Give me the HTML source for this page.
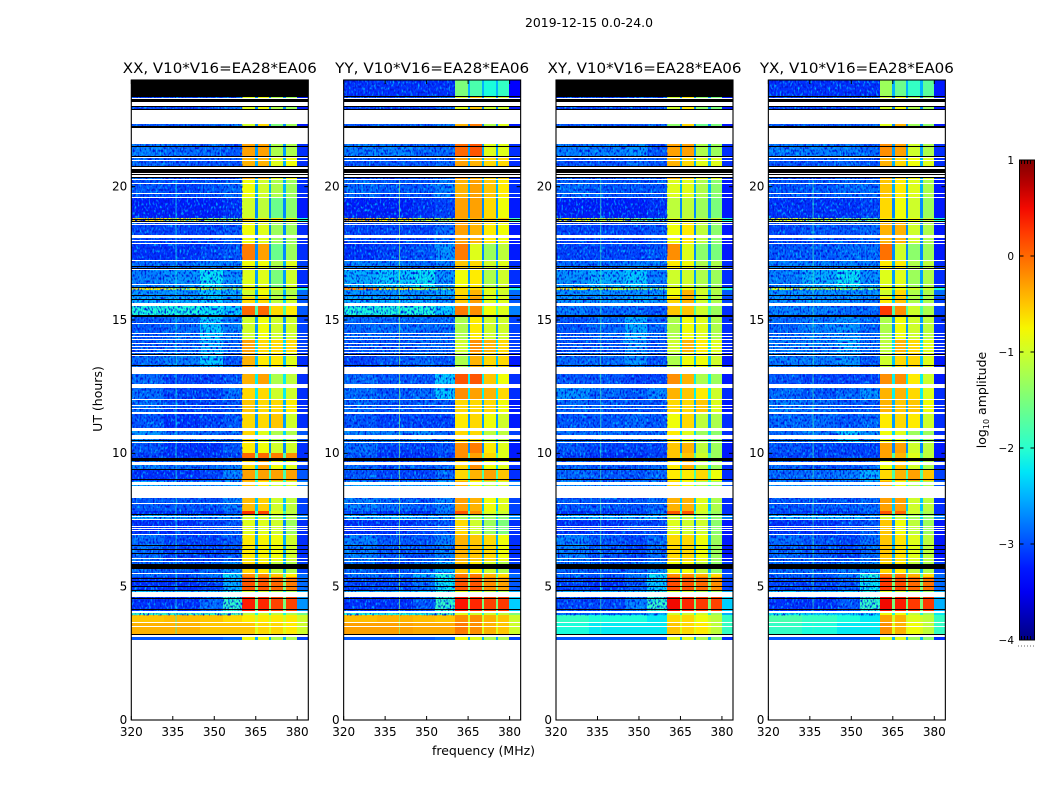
<!DOCTYPE html>
<html lang="en">
<head>
<meta charset="utf-8">
<title>2019-12-15 0.0-24.0</title>
<style>
html,body{margin:0;padding:0;background:#fff;width:1050px;height:800px;overflow:hidden}
svg{display:block}
text{font-family:"DejaVu Sans","Liberation Sans",sans-serif;fill:#000}
.cell{shape-rendering:crispEdges}
</style>
</head>
<body>
<svg id="figure" xmlns="http://www.w3.org/2000/svg" width="1050" height="800" viewBox="0 0 1050 800">
  <defs>
    <filter id="grain-light" x="0" y="0" width="1" height="1" color-interpolation-filters="sRGB">
      <feTurbulence type="fractalNoise" baseFrequency="0.55 0.32" numOctaves="1" seed="3"/>
      <feColorMatrix type="matrix" values="0 0 0 0 0  0 0 0 0 0.72  0 0 0 0 1  3.6 0 0 0 -1.8"/>
    </filter>
    <filter id="grain-dark" x="0" y="0" width="1" height="1" color-interpolation-filters="sRGB">
      <feTurbulence type="fractalNoise" baseFrequency="0.6 0.36" numOctaves="1" seed="11"/>
      <feColorMatrix type="matrix" values="0 0 0 0 0  0 0 0 0 0.08  0 0 0 0 0.85  4 0 0 0 -1.9"/>
    </filter>
    <linearGradient id="jet-gradient" x1="0" y1="1" x2="0" y2="0"></linearGradient>
  </defs>
  <text x="589" y="27" font-size="12.5" text-anchor="middle" textLength="128" lengthAdjust="spacingAndGlyphs">2019-12-15 0.0-24.0</text>
  <text x="483.5" y="755" font-size="12.5" text-anchor="middle" textLength="103" lengthAdjust="spacingAndGlyphs">frequency (MHz)</text>
  <text x="0" y="0" font-size="12.5" text-anchor="middle" transform="translate(102,399) rotate(-90)">UT (hours)</text>
  <text x="0" y="0" font-size="12.5" text-anchor="middle" transform="translate(986,400) rotate(-90)">log<tspan font-size="8" dy="3">10</tspan><tspan dy="-3"> amplitude</tspan></text>
  <g id="panels"></g>
  <g id="colorbar"></g>
</svg>
<script>
// Row boundaries in UT hours, from the top of each time block down.
const timeEdges = [24,23.36,22.35,21.60,21.11,20.24,19.57,18.82,18.72,17.88,17.20,16.87,16.21,16.14,15.85,15.52,15.14,14.24,13.75,12.96,12.44,11.99,11.46,10.83,10.38,10.00,9.74,9.36,8.95,8.31,7.82,7.67,7.50,6.92,5.98,5.53,5.35,4.82,4.60,4.07,3.92,3.62,3.21,2.98];
// Frequency blocks in MHz.
const bandStarts = [320,332,345,353,360.2,365.7,370.6,375.9,379.9];
const bandEnds = [332,345,353,360.2,364.8,369.9,375,379.9,384];
const notchStarts = [364.8,369.9,375];
const notchEnds = [365.7,370.6,375.9];
const notchLevels = [-2.5,-2.7,-2.7,-2.6,-2.5,-2.5,-2.7,-1.8,-2.7,-2.7,-2.5,-2.6,-1.8,-2.5,-2.3,-1.8,-2.6,-2.3,-2.4,-2.2,-2.2,-2.5,-2.6,-2.3,-2.7,-1.8,-2.3,-1.8,-2.1,-2.4,-1.8,-2.3,-2.7,-2.5,-2.5,-1.8,-1.5,-2.2,-1.5,-2.1,-1.0,-0.9,-2.5];

// log10 amplitude: one row per time block, one column per frequency block.
const levelsXX = [
[-3,-3,-3,-3,-1.5,-1.7,-2,-1.7,-3],
[-2.8,-2.8,-2.8,-2.6,-0.9,-0.8,-1.2,-1.3,-3],
[-2.7,-2.7,-2.6,-2.5,-1.0,-0.6,-1.5,-1.3,-3],
[-2.5,-2.6,-2.6,-2.7,-0.3,-0.3,-1.2,-1.2,-2.9],
[-2.6,-2.7,-2.7,-2.7,-0.4,-0.4,-0.9,-0.8,-2.9],
[-2.7,-2.8,-2.7,-2.6,-0.8,-1.0,-1.2,-1.3,-2.9],
[-3,-3,-3,-2.9,-1.0,-1.1,-1.6,-1.4,-3],
[-0.6,-0.8,-1.2,-1.5,-0.6,-0.7,-0.7,-0.8,-2],
[-2.8,-2.8,-2.8,-2.7,-0.8,-0.9,-1.3,-1.3,-2.9],
[-2.9,-2.9,-2.8,-2.7,-0.1,-0.3,-1.6,-1.3,-2.9],
[-2.6,-2.6,-2.5,-2.5,-0.8,-0.8,-1.2,-0.9,-2.8],
[-2.5,-2.4,-2.1,-2.4,-0.9,-0.9,-1.5,-1.0,-2.9],
[-0.7,-0.9,-1.1,-1.3,-0.7,-0.7,-0.9,-1,-2],
[-2.4,-2.4,-2.2,-2.3,-1.0,-0.8,-1.2,-1.2,-2.6],
[-2.3,-2.3,-2.2,-2.4,-0.6,-0.6,-1.1,-1.0,-2.7],
[-2.0,-2.0,-2.1,-2.2,0,0,-0.6,-0.7,-2.7],
[-2.7,-2.6,-2.2,-2.5,-1.0,-0.8,-1.0,-1.0,-2.8],
[-2.7,-2.6,-2.3,-2.6,-0.3,-0.6,-0.6,-0.6,-2.8],
[-2.6,-2.5,-2.2,-2.7,-0.4,-0.7,-0.7,-0.9,-2.9],
[-2.6,-2.8,-2.8,-2.7,-0.4,-0.3,-1.2,-1.1,-2.9],
[-2.6,-2.8,-2.8,-2.6,-0.6,-0.6,-1.0,-1.0,-2.9],
[-2.6,-2.8,-2.8,-2.7,-0.5,-0.6,-0.6,-0.7,-2.9],
[-2.7,-2.9,-2.8,-2.7,-0.6,-0.6,-0.5,-1.0,-2.9],
[-2.4,-2.6,-2.6,-2.6,-0.6,-0.9,-1.2,-1.2,-2.7],
[-2.7,-2.9,-2.9,-2.7,-0.7,-0.8,-1.0,-1.0,-2.9],
[-2.8,-2.9,-2.9,-2.8,0,0,-0.1,-0.2,-2.9],
[-2.5,-2.6,-2.6,-2.5,-0.6,-0.3,-0.8,-0.9,-2.8],
[-2.9,-2.9,-2.8,-2.5,-0.3,-0.3,-0.3,-0.3,-2.7],
[-2.3,-2.4,-2.4,-2.3,-0.5,-0.7,-1,-1,-2.5],
[-2.7,-2.7,-2.7,-2.5,-0.45,-0.55,-1.0,-1.1,-2.8],
[-2.9,-2.9,-2.9,-2.7,0.3,0.2,-0.9,-1.1,-2.8],
[-2.3,-2.4,-2.4,-2.4,-1.0,-1,-1.2,-1.2,-2.5],
[-2.9,-2.9,-2.8,-2.7,-0.9,-0.9,-1.0,-1.3,-2.9],
[-2.6,-2.8,-2.8,-2.7,-0.7,-0.75,-0.8,-1.0,-2.9],
[-2.6,-2.7,-2.6,-2.4,-0.6,-0.7,-1.1,-1.2,-2.8],
[-2.6,-2.7,-2.5,-2.1,-0.2,-0.2,-0.5,-0.7,-2.6],
[-2.9,-2.9,-2.8,-2.3,0.1,0.1,0,-0.1,-2.6],
[-2.2,-2.3,-2.2,-2.0,-1.0,-1.0,-1.2,-1.2,-2.3],
[-2.9,-2.9,-2.6,-1.9,0.4,0.35,0.2,0.2,-2.4],
[-1.9,-1.9,-1.9,-1.8,-1.1,-1,-1.1,-1.2,-1.6],
[-0.5,-0.45,-0.5,-0.6,-0.7,-0.7,-0.7,-0.7,-1.0],
[-0.4,-0.4,-0.5,-0.5,-0.5,-0.6,-0.6,-0.7,-1.0],
[-2.7,-2.7,-2.7,-2.6,-0.8,-0.8,-1.2,-1.2,-2.8]
];
const levelsYY = [
[-2.9,-2.9,-2.9,-2.9,-1.5,-1.8,-2.0,-1.9,-3.2],
[-2.8,-2.8,-2.8,-2.6,-0.9,-0.5,-1.0,-1.0,-3],
[-2.7,-2.7,-2.7,-2.5,-0.4,-0.1,-1.2,-0.9,-3],
[-2.5,-2.5,-2.6,-2.6,0.0,0.1,-0.9,-0.9,-2.9],
[-2.7,-2.7,-2.7,-2.6,-0.3,-0.4,-0.6,-0.6,-2.9],
[-2.6,-2.7,-2.7,-2.5,-0.4,-0.3,-0.5,-0.7,-2.9],
[-3,-3,-2.9,-2.8,-0.3,-0.3,-0.6,-0.8,-3],
[-0.4,-0.7,-1.0,-1.2,-0.4,-0.4,-0.5,-0.5,-1.8],
[-2.8,-2.8,-2.8,-2.6,-0.3,-0.4,-0.7,-0.8,-3],
[-2.9,-2.8,-2.7,-2.4,-0.1,-0.9,-1.3,-1.1,-3],
[-2.5,-2.5,-2.6,-2.5,-0.5,-0.6,-1.0,-0.9,-2.9],
[-2.3,-2.2,-2.1,-2.4,-0.8,-0.7,-1.2,-1.0,-2.9],
[-0.2,-0.7,-1.0,-1.3,-0.6,-0.6,-0.8,-0.9,-2],
[-2.4,-2.4,-2.4,-2.3,-0.6,-0.4,-0.9,-1,-2.6],
[-2.3,-2.3,-2.3,-2.4,-0.5,-0.3,-0.9,-0.9,-2.7],
[-2.0,-2.0,-2.0,-2.2,-0.1,-0.2,-0.8,-0.9,-2.5],
[-2.6,-2.6,-2.6,-2.6,-1.2,-0.7,-1.0,-1.0,-2.8],
[-2.7,-2.7,-2.6,-2.6,-1.0,-0.2,-0.4,-0.6,-2.8],
[-2.8,-2.7,-2.6,-2.7,-1.2,-0.4,-0.6,-0.6,-3],
[-2.6,-2.7,-2.7,-2.2,0.1,0.1,-0.5,-0.8,-2.9],
[-2.6,-2.7,-2.6,-2.2,-0.2,-0.3,-0.4,-0.6,-2.9],
[-2.6,-2.7,-2.7,-2.7,-0.6,-0.6,-0.6,-0.8,-3],
[-2.7,-2.8,-2.8,-2.8,-0.7,-0.6,-0.8,-1,-3],
[-2.5,-2.5,-2.4,-2.6,-0.6,-0.6,-1.1,-1.1,-2.8],
[-2.6,-2.8,-2.8,-2.7,-0.2,-0.1,-0.7,-0.9,-3],
[-2.7,-2.9,-2.9,-2.8,-0.2,-0.3,-0.6,-0.9,-3],
[-2.6,-2.7,-2.7,-2.6,-0.6,-0.2,-0.8,-0.9,-2.9],
[-2.7,-2.8,-2.8,-2.6,-0.6,-0.4,-0.3,-0.5,-2.9],
[-2.3,-2.4,-2.4,-2.3,-0.4,-0.8,-1.1,-1,-2.5],
[-2.5,-2.6,-2.7,-2.5,-0.3,-0.4,-0.8,-0.9,-2.8],
[-2.8,-2.9,-2.9,-2.6,0.1,-0.2,-0.9,-1,-2.8],
[-2.3,-2.3,-2.4,-2.4,-1.2,-1.3,-1.3,-1.4,-2.4],
[-2.9,-2.9,-2.8,-2.7,-0.6,-1.0,-1.3,-1.5,-2.9],
[-2.5,-2.7,-2.7,-2.5,-0.4,-0.5,-0.6,-0.8,-2.9],
[-2.6,-2.7,-2.5,-2.3,-0.5,-0.7,-1.0,-1.2,-2.8],
[-2.5,-2.6,-2.3,-2.0,-0.1,-0.1,-0.4,-0.6,-2.6],
[-2.8,-2.8,-2.6,-2.1,0.1,0.1,-0.2,-0.3,-2.7],
[-2.3,-2.3,-2.2,-2.0,-0.9,-1,-1.1,-1.2,-2.3],
[-2.9,-2.9,-2.7,-1.9,0.45,0.35,0.2,0.25,-2.2],
[-2.0,-2.0,-2.0,-1.9,-0.9,-1,-1.0,-1.1,-1.5],
[-0.45,-0.4,-0.45,-0.5,-0.2,-0.2,-0.4,-0.5,-1.0],
[-0.3,-0.3,-0.35,-0.35,-0.1,-0.2,-0.4,-0.5,-1.0],
[-2.7,-2.7,-2.7,-2.6,-0.8,-0.9,-1.2,-1.2,-2.8]
];
const levelsXY = [
[-3,-3,-3,-3,-1.5,-1.7,-2,-1.7,-3],
[-2.8,-2.8,-2.8,-2.7,-1.0,-0.7,-1.4,-1.5,-3],
[-2.7,-2.7,-2.7,-2.6,-1.4,-0.6,-1.6,-1.5,-3],
[-2.5,-2.5,-2.4,-2.7,-0.3,-0.3,-1.2,-1.3,-2.9],
[-2.7,-2.7,-2.6,-2.7,-0.4,-0.6,-0.9,-0.9,-2.9],
[-2.6,-2.7,-2.7,-2.7,-0.9,-0.9,-1.2,-1.4,-3],
[-3,-3,-3,-2.9,-1.1,-1.1,-1.3,-1.5,-3],
[-0.8,-1.0,-1.4,-1.8,-0.9,-0.9,-1,-1,-2],
[-2.8,-2.8,-2.8,-2.7,-0.8,-0.7,-1.1,-1.4,-3],
[-2.8,-2.8,-2.8,-2.7,-0.2,-0.9,-1.4,-1.5,-3],
[-2.6,-2.6,-2.5,-2.5,-0.7,-0.8,-1.2,-1.2,-2.9],
[-2.4,-2.3,-2.2,-2.5,-1.0,-1.0,-1.2,-1.3,-2.9],
[-0.7,-1.0,-1.3,-1.5,-0.8,-0.8,-1,-1.1,-2],
[-2.4,-2.4,-2.4,-2.4,-0.8,-0.4,-1.0,-1.2,-2.7],
[-2.4,-2.4,-2.3,-2.4,-0.6,-0.4,-1.0,-1.2,-2.8],
[-2.5,-2.6,-2.6,-2.7,-0.5,-0.5,-1,-1.3,-2.9],
[-2.7,-2.6,-2.3,-2.6,-1.2,-0.8,-0.9,-1.2,-2.9],
[-2.7,-2.7,-2.4,-2.7,-1.0,-0.4,-0.7,-0.9,-2.9],
[-2.6,-2.6,-2.4,-2.7,-1.2,-0.8,-0.8,-1.0,-3],
[-2.7,-2.7,-2.8,-2.8,-0.2,-0.4,-1.2,-1.3,-3],
[-2.4,-2.6,-2.7,-2.5,-0.4,-0.5,-0.7,-1,-2.9],
[-2.6,-2.7,-2.7,-2.7,-0.6,-0.6,-0.5,-0.9,-3],
[-2.7,-2.7,-2.6,-2.7,-0.8,-0.6,-1.1,-1.2,-2.9],
[-2.6,-2.6,-2.6,-2.6,-0.7,-0.9,-1.3,-1.4,-2.9],
[-2.7,-2.8,-2.8,-2.8,-0.5,-0.4,-1.1,-1.3,-3],
[-2.8,-2.9,-2.9,-2.8,-0.5,-0.5,-1.0,-1.3,-3],
[-2.6,-2.7,-2.7,-2.6,-0.7,-0.4,-1.1,-1.3,-2.9],
[-2.6,-2.7,-2.7,-2.6,-0.7,-0.7,-0.6,-0.8,-2.9],
[-2.4,-2.5,-2.5,-2.4,-0.6,-0.8,-1.2,-1.3,-2.7],
[-2.7,-2.7,-2.7,-2.6,-0.4,-0.4,-0.9,-1.2,-2.9],
[-2.9,-2.9,-2.8,-2.6,0.1,0.1,-1,-1.3,-2.9],
[-2.3,-2.3,-2.3,-2.3,-1.1,-1.1,-1.2,-1.4,-2.5],
[-2.9,-2.9,-2.8,-2.8,-0.9,-1.0,-1.0,-1.4,-3],
[-2.5,-2.7,-2.8,-2.6,-0.6,-0.6,-0.8,-1.3,-3],
[-2.6,-2.7,-2.6,-2.4,-0.8,-0.8,-1.1,-1.4,-2.8],
[-2.6,-2.7,-2.5,-2.1,-0.2,-0.2,-0.4,-0.6,-2.7],
[-2.8,-2.9,-2.7,-2.2,0.15,0.1,0,-0.2,-2.8],
[-2.3,-2.3,-2.2,-2.0,-1,-1,-1.2,-1.3,-2.3],
[-2.8,-2.8,-2.5,-1.9,0.5,0.35,0.25,0.2,-2.2],
[-2.6,-2.6,-2.5,-2.3,-1,-1,-1,-1.3,-2.3],
[-1.9,-2.0,-2.0,-2.1,-0.6,-0.6,-0.8,-1.1,-1.9],
[-2.0,-2.1,-2.1,-2.1,-0.5,-0.6,-0.7,-1.1,-1.9],
[-2.7,-2.7,-2.7,-2.7,-0.9,-0.9,-1.2,-1.4,-2.9]
];
const levelsYX = [
[-2.9,-2.9,-2.9,-2.9,-1.3,-1.6,-1.9,-1.7,-3],
[-2.8,-2.8,-2.8,-2.7,-1.0,-0.8,-1.2,-1.3,-3],
[-2.7,-2.7,-2.7,-2.6,-0.9,-0.4,-1.3,-1.4,-3],
[-2.5,-2.5,-2.5,-2.6,-0.2,-0.3,-1.0,-1.2,-2.9],
[-2.7,-2.7,-2.6,-2.7,-0.4,-0.6,-0.8,-0.9,-2.9],
[-2.7,-2.7,-2.6,-2.6,-0.5,-0.7,-0.9,-1.2,-3],
[-2.9,-2.9,-2.9,-2.8,-0.6,-0.8,-1,-1.3,-3],
[-0.9,-1.1,-1.4,-1.6,-0.7,-0.8,-0.8,-1,-2],
[-2.8,-2.7,-2.7,-2.6,-0.4,-0.4,-1,-1.2,-3],
[-2.7,-2.7,-2.6,-2.6,-0.05,-1.0,-1.4,-1.3,-3],
[-2.5,-2.5,-2.5,-2.5,-0.7,-0.7,-1.2,-1.1,-2.9],
[-2.5,-2.3,-2.1,-2.4,-0.9,-0.9,-1.3,-1.2,-2.9],
[-1,-1.2,-1.4,-1.6,-0.8,-0.8,-1,-1,-2],
[-2.4,-2.4,-2.4,-2.4,-1.0,-0.6,-1.2,-1.2,-2.6],
[-2.4,-2.4,-2.4,-2.5,-0.7,-0.5,-1.2,-1.2,-2.8],
[-2.5,-2.5,-2.6,-2.6,0.25,-0.2,-1,-1.2,-2.8],
[-2.6,-2.5,-2.4,-2.6,-1.2,-0.8,-1.0,-1.1,-2.9],
[-2.5,-2.5,-2.3,-2.6,-1.1,-0.4,-0.6,-0.9,-2.9],
[-2.5,-2.5,-2.4,-2.7,-1,-0.6,-0.6,-0.9,-3],
[-2.7,-2.8,-2.8,-2.8,-0.2,-0.2,-0.7,-1,-3],
[-2.6,-2.7,-2.6,-2.4,-0.4,-0.4,-0.6,-0.9,-2.9],
[-2.5,-2.6,-2.7,-2.7,-0.4,-0.5,-0.5,-0.8,-2.9],
[-2.6,-2.6,-2.7,-2.6,-0.7,-0.6,-0.7,-1.0,-2.9],
[-2.6,-2.5,-2.2,-2.4,-0.8,-0.9,-1.3,-1.3,-2.9],
[-2.7,-2.8,-2.8,-2.8,-0.3,-0.3,-1.0,-1.1,-3],
[-2.8,-2.8,-2.8,-2.8,-0.3,-0.4,-0.9,-1.1,-3],
[-2.6,-2.7,-2.7,-2.6,-0.8,-0.5,-1.0,-1.2,-2.9],
[-2.6,-2.6,-2.5,-2.3,-0.6,-0.4,-0.3,-0.5,-2.8],
[-2.4,-2.5,-2.5,-2.4,-0.4,-0.8,-1.2,-1.2,-2.7],
[-2.7,-2.7,-2.7,-2.6,-0.3,-0.3,-1.0,-1.1,-2.9],
[-2.8,-2.9,-2.8,-2.7,0.1,0,-1,-1.2,-2.9],
[-2.3,-2.3,-2.3,-2.4,-1,-1.1,-1.3,-1.4,-2.5],
[-2.9,-2.9,-2.8,-2.7,-0.5,-0.8,-1.1,-1.3,-3],
[-2.6,-2.7,-2.8,-2.6,-0.5,-0.65,-0.9,-1.1,-3],
[-2.6,-2.6,-2.5,-2.4,-0.6,-0.7,-1.1,-1.2,-2.8],
[-2.6,-2.7,-2.5,-2.0,-0.1,-0.1,-0.4,-0.6,-2.6],
[-2.8,-2.8,-2.7,-2.1,0.25,0.15,0,-0.05,-2.6],
[-2.2,-2.3,-2.2,-2.0,-0.9,-1,-1.2,-1.3,-2.3],
[-2.9,-2.9,-2.7,-1.9,0.5,0.4,0.25,0.25,-2.3],
[-2.1,-2.2,-2.2,-2.2,-0.8,-0.8,-1.1,-1.3,-2.1],
[-1.8,-1.9,-2.0,-2.1,-0.3,-0.4,-0.9,-1.1,-1.9],
[-1.9,-2.0,-2.1,-2.1,-0.2,-0.4,-0.8,-1.1,-1.9],
[-2.7,-2.7,-2.7,-2.7,-0.9,-0.9,-1.3,-1.4,-2.9]
];

// Flagged (white) and zero-amplitude (black) time spans, in UT hours [top,bottom].
const flaggedSpans = [[23.32,23.28],[23.17,23.03],[22.87,22.35],[22.21,21.60],[21.11,21.07],[20.99,20.96],[20.73,20.67],[20.51,20.47],[20.43,20.37],[20.28,20.24],[20.13,20.09],[19.77,19.72],[19.61,19.57],[18.67,18.63],[18.61,18.57],[18.18,18.08],[17.99,17.95],[17.88,17.84],[17.24,17.20],[16.90,16.87],[16.36,16.30],[16.25,16.22],[15.62,15.52],[14.88,14.84],[14.52,14.49],[14.39,14.36],[14.28,14.25],[14.13,14.10],[14.02,13.98],[13.90,13.87],[13.79,13.76],[13.68,13.64],[13.23,12.98],[12.59,12.44],[12.05,11.99],[11.80,11.76],[11.69,11.65],[11.55,11.49],[10.94,10.83],[10.68,10.53],[10.41,10.38],[9.66,9.55],[8.91,8.83],[8.76,8.32],[8.12,8.09],[7.64,7.60],[7.55,7.49],[7.28,7.25],[7.19,7.16],[7.11,7.08],[6.96,6.93],[6.06,6.02],[5.95,5.91],[5.52,5.48],[4.80,4.60],[4.10,4.02],[3.66,3.62],[3.53,3.47],[3.17,3.10],[3.00,0]];
const zeroSpans = [[23.40,23.36],[23.28,23.17],[23.02,22.99],[22.91,22.87],[22.27,22.21],[21.52,21.49],[21.16,21.13],[20.79,20.76],[20.66,20.53],[20.47,20.43],[20.36,20.31],[18.80,18.78],[18.72,18.69],[17.01,16.98],[16.94,16.90],[16.22,16.19],[15.93,15.89],[15.80,15.78],[15.18,15.13],[13.74,13.70],[13.30,13.27],[10.51,10.48],[9.82,9.71],[9.43,9.37],[9.05,9.01],[7.71,7.67],[6.55,6.52],[6.42,6.36],[6.27,6.24],[5.84,5.67],[5.33,5.30],[5.23,5.20],[5.01,4.97],[4.86,4.84],[4.58,4.54],[4.15,4.11],[3.24,3.18]];

const panelKeys = ['xx','yy','xy','yx'];
const panelTitles = ['XX, V10*V16=EA28*EA06','YY, V10*V16=EA28*EA06','XY, V10*V16=EA28*EA06','YX, V10*V16=EA28*EA06'];
const panelLevels = [levelsXX,levelsYY,levelsXY,levelsYX];
const panelZeroTop = [[24,23.36],null,[24,23.36],null];
const spurChannels = [336,340,336,336];
const spurLevels = [-2.1,-1.4,-1.9,-1.9];

const freqTicks = [320,335,350,365,380];
const timeTicks = [0,5,10,15,20];
const colorTicks = [1,0,-1,-2,-3,-4];
const colorTickLabels = ['1','0','\u22121','\u22122','\u22123','\u22124'];

const SVGNS = 'http://www.w3.org/2000/svg';
const plotTop = 80, plotBottom = 720, plotWidth = 177, firstLeft = 131.3, panelStep = 212.35;
const cbLeft = 1019.5, cbRight = 1034.5, cbTop = 160, cbBottom = 640;

function yOf(hours){ return plotBottom - (hours / 24) * (plotBottom - plotTop); }
function xScale(left){ return function(mhz){ return left + (mhz - 320) / 64 * plotWidth; }; }
function cbY(v){ return cbBottom - (v + 4) / 5 * (cbBottom - cbTop); }

function interp(points, t){
  for (let i = 1; i < points.length; i++) {
    if (t <= points[i][0]) {
      const a = points[i-1], b = points[i];
      return a[1] + (b[1]-a[1]) * (t-a[0]) / (b[0]-a[0]);
    }
  }
  return points[points.length-1][1];
}
const jetR = [[0,0],[.35,0],[.66,1],[.89,1],[1,.5]];
const jetG = [[0,0],[.125,0],[.375,1],[.64,1],[.91,0],[1,0]];
const jetB = [[0,.5],[.11,1],[.34,1],[.65,0],[1,0]];
function jet(level){
  const t = Math.max(0, Math.min(1, (level + 4) / 5));
  return 'rgb(' + Math.round(interp(jetR,t)*255) + ',' + Math.round(interp(jetG,t)*255) + ',' + Math.round(interp(jetB,t)*255) + ')';
}
// Averaged noise reads brighter than the mean colour of the speckled original,
// so the noise floor is drawn slightly lower on the colour scale.
function noiseFloor(level){
  const weight = Math.max(0, Math.min(1, (-1.8 - level) / 0.6));
  return level - 0.25 * weight;
}

function make(tag, attrs, parent){
  const el = document.createElementNS(SVGNS, tag);
  for (const k in attrs) el.setAttribute(k, attrs[k]);
  parent.appendChild(el);
  return el;
}
function block(parent, x0, x1, top, bottom, fill){
  const xa = Math.round(x0), xb = Math.round(x1);
  const ya = Math.round(yOf(top));
  const yb = Math.max(ya + 1, Math.round(yOf(bottom)));
  return make('rect', {x:xa, y:ya, width:xb-xa, height:yb-ya, fill:fill, class:'cell'}, parent);
}

const panelsRoot = document.getElementById('panels');
panelKeys.forEach(function(key, p){
  const left = firstLeft + p * panelStep;
  const x = xScale(left);
  const levels = panelLevels[p];

  const g = make('g', {}, panelsRoot);
  
  

  const title = make('text', {x:left + plotWidth/2, y:73, 'font-size':14.4, 'text-anchor':'middle', textLength:194, lengthAdjust:'spacingAndGlyphs'}, g);
  title.textContent = panelTitles[p];
  
  

  const heat = make('g', {}, g);
  
  

  levels.forEach(function(row, r){
    row.forEach(function(value, c){
      const cell = block(heat, x(bandStarts[c]), x(bandEnds[c]), timeEdges[r], timeEdges[r+1], jet(noiseFloor(value)));
      
      
    });
    notchStarts.forEach(function(start, n){
      const notch = block(heat, x(start), x(notchEnds[n]), timeEdges[r], timeEdges[r+1], jet(notchLevels[r]));
      
      
    });
  });

  // speckle over the noise-dominated part of the band
  const grainTop = yOf(24), grainBottom = yOf(timeEdges[40]);
  const g1 = make('rect', {x:x(320), y:grainTop, width:x(360.2)-x(320), height:grainBottom-grainTop, filter:'url(#grain-light)'}, heat);
  
  
  const g2 = make('rect', {x:x(320), y:grainTop, width:x(360.2)-x(320), height:grainBottom-grainTop, filter:'url(#grain-dark)'}, heat);
  
  

  const spur = make('rect', {x:x(spurChannels[p]), y:yOf(timeEdges[5]), width:1, height:yOf(timeEdges[42])-yOf(timeEdges[5]), fill:jet(spurLevels[p]), opacity:.65}, heat);
  
  

  flaggedSpans.forEach(function(s){
    const gap = block(heat, x(320), x(384), s[0], s[1], '#fff');
    
    
  });
  zeroSpans.forEach(function(s){
    const bar = block(heat, x(320), x(384), s[0], s[1], '#000');
    
    
  });
  if (panelZeroTop[p]) {
    const topBar = block(heat, x(320), x(384), panelZeroTop[p][0], panelZeroTop[p][1], '#000');
    
    
  }

  const frame = make('rect', {x:left, y:plotTop, width:plotWidth, height:plotBottom-plotTop, fill:'none', stroke:'#000', 'stroke-width':1.1}, g);
  
  

  freqTicks.forEach(function(f){
    const px = x(f);
    const t1 = make('line', {x1:px, x2:px, y1:plotBottom, y2:plotBottom-4, stroke:'#000', 'stroke-width':1}, g);
    
    
    const t2 = make('line', {x1:px, x2:px, y1:plotTop, y2:plotTop+4, stroke:'#000', 'stroke-width':1}, g);
    
    
    const lab = make('text', {x:px, y:736, 'font-size':12, 'text-anchor':'middle'}, g);
    lab.textContent = String(f);
    
    
  });
  timeTicks.forEach(function(h){
    const py = yOf(h);
    const t1 = make('line', {x1:left, x2:left+4, y1:py, y2:py, stroke:'#000', 'stroke-width':1}, g);
    
    
    const t2 = make('line', {x1:left+plotWidth, x2:left+plotWidth-4, y1:py, y2:py, stroke:'#000', 'stroke-width':1}, g);
    
    
    const lab = make('text', {x:left-4, y:py+3.8, 'font-size':12, 'text-anchor':'end'}, g);
    lab.textContent = String(h);
    
    
  });
});

// colour bar
const cb = document.getElementById('colorbar');
const jetGrad = document.getElementById('jet-gradient');
for (let i = 0; i <= 20; i++) {
  const level = -4 + i * 5 / 20;
  make('stop', {offset:(i * 5) + '%', 'stop-color':jet(level)}, jetGrad);
}
const cbFill = make('rect', {x:cbLeft, y:cbTop, width:cbRight-cbLeft, height:cbBottom-cbTop, fill:'url(#jet-gradient)', stroke:'#000', 'stroke-width':1}, cb);


colorTicks.forEach(function(v, i){
  const py = cbY(v);
  const a = make('line', {x1:cbLeft, x2:cbLeft+4, y1:py, y2:py, stroke:'#000', 'stroke-width':1}, cb);
  
  
  const b = make('line', {x1:cbRight, x2:cbRight-4, y1:py, y2:py, stroke:'#000', 'stroke-width':1}, cb);
  
  
  const lab = make('text', {x:1014, y:py+4, 'font-size':10.5, 'text-anchor':'end'}, cb);
  lab.textContent = colorTickLabels[i];
  
  
});
[cbTop, cbBottom].forEach(function(edge){
  const dir = edge === cbTop ? 1 : -1;
  const strip = make('line', {x1:cbLeft+1.5, x2:cbRight-1.5, y1:edge+dir*2, y2:edge+dir*2, stroke:'#000', 'stroke-width':4, 'stroke-dasharray':'1 2'}, cb);
  
  
});
const dots = make('line', {x1:1018, x2:1035, y1:646, y2:646, stroke:'#666', 'stroke-width':1, 'stroke-dasharray':'1 2'}, cb);


</script>
</body>
</html>
